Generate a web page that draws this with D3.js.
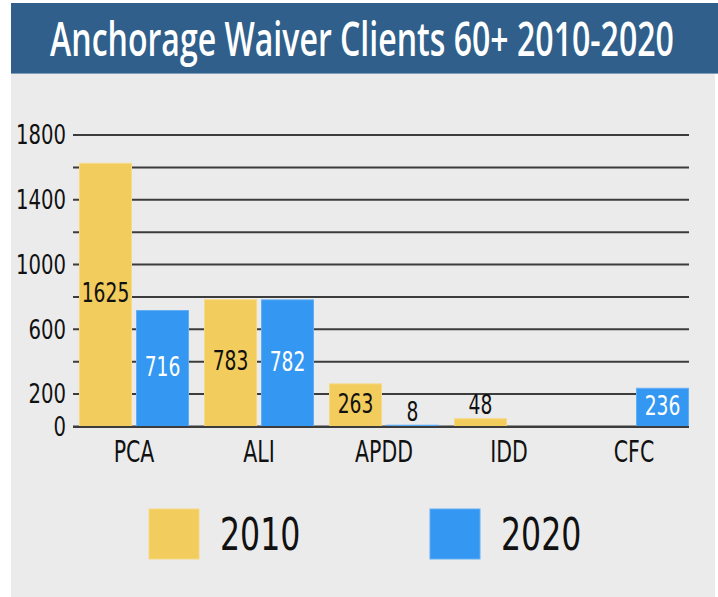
<!DOCTYPE html>
<html>
<head>
<meta charset="utf-8">
<script src="https://cdn.jsdelivr.net/npm/d3@7"></script>
<style>
  body { margin: 0; background: #fff; }
  svg { display: block; }
  text { font-family: "Liberation Sans Narrow", "DejaVu Sans Condensed", sans-serif; }
</style>
</head>
<body>
<svg id="chart" width="718" height="597"></svg>
<script>
// data
var categories = ['PCA', 'ALI', 'APDD', 'IDD', 'CFC']
var series = ['2010', '2020']
var values2010 = [1625, 783, 263, 48, null]
var values2020 = [716, 782, 8, null, 236]
var gridTicks = [0, 200, 400, 600, 800, 1000, 1200, 1400, 1600, 1800]
var tickLabels = [0, 200, 600, 1000, 1400, 1800]

var colors = {'2010': '#f2cc5c', '2020': '#3497f1'}
var strokes = {'2010': '#f6d983', '2020': '#62aef4'}

var rows = categories.map((c, i) => ({cat: c, '2010': values2010[i], '2020': values2020[i]}))

// squeeze glyphs to look like the condensed face of the original
function narrow(sel, k) {
  sel.each(function() {
    var w = this.getComputedTextLength()
    d3.select(this).attr('textLength', w * k).attr('lengthAdjust', 'spacingAndGlyphs')
  })
}

var svg = d3.select('#chart')

// background panel + title bar
svg.append('rect').attr('x', 11).attr('y', 73).attr('width', 704).attr('height', 524).attr('fill', '#ebebeb')
svg.append('rect').attr('x', 11).attr('y', 3).attr('width', 707).attr('height', 70).attr('fill', '#2f5f8a')
svg.append('line').attr('x1', 11).attr('x2', 718).attr('y1', 73.5).attr('y2', 73.5)
    .attr('stroke', '#7f9dbb').attr('stroke-width', 1)

var title = svg.append('text')
    .attr('text-anchor', 'middle')
    .attr('fill', '#fff')
    .style('font-family', '"Open Sans", "DejaVu Sans Condensed", sans-serif')
    .style('font-weight', 600)
    .style('font-size', '47px')
    .text('Anchorage Waiver Clients 60+ 2010-2020')
var tw = title.node().getComputedTextLength()
title.attr('transform', `translate(362,56) scale(${624 / tw},1)`)

var y = d3.scaleLinear()
    .domain([0, 1800])
    .range([426.5, 135])

var x0 = d3.scaleBand()
    .domain(categories)
    .range([73, 695])
    .paddingInner(0.128)
    .paddingOuter(0.052)

var x1 = d3.scaleBand()
    .domain(series)
    .range([0, x0.bandwidth()])
    .paddingInner(0.088)

// gridlines
svg.append('g')
  .selectAll('line')
  .data(gridTicks)
  .join('line')
    .attr('x1', 73)
    .attr('x2', 689)
    .attr('y1', d => y(d))
    .attr('y2', d => y(d))
    .attr('stroke', '#3c3c3c')
    .attr('stroke-width', 2)

// y tick labels
svg.append('g')
    .style('font-size', '26px')
  .selectAll('text')
  .data(tickLabels)
  .join('text')
    .attr('x', 66)
    .attr('y', d => y(d))
    .attr('dy', '0.36em')
    .attr('text-anchor', 'end')
    .attr('fill', '#111')
    .text(d => d)
    .call(narrow, 0.84)

// bars
var flat = []
rows.forEach(r => series.forEach(s => {
  if (r[s] != null) flat.push({cat: r.cat, s: s, v: r[s]})
}))

svg.append('g')
  .selectAll('rect')
  .data(flat)
  .join('rect')
    .attr('x', d => x0(d.cat) + x1(d.s))
    .attr('y', d => y(d.v))
    .attr('width', x1.bandwidth())
    .attr('height', d => y(0) - y(d.v))
    .attr('fill', d => colors[d.s])
    .attr('stroke', d => strokes[d.s])
    .attr('stroke-width', 1)

// redraw the baseline over the bars
svg.append('line')
    .attr('x1', 73).attr('x2', 689)
    .attr('y1', y(0) + 0.5).attr('y2', y(0) + 0.5)
    .attr('stroke', '#3c3c3c').attr('stroke-width', 2)

// value labels: inside the bar when it fits, otherwise above it
svg.append('g')
    .style('font-size', '26px')
  .selectAll('text')
  .data(flat)
  .join('text')
    .attr('x', d => x0(d.cat) + x1(d.s) + x1.bandwidth() / 2)
    .attr('y', d => {
      var h = y(0) - y(d.v)
      return h > 30 ? y(d.v) + h / 2 - 2 : y(d.v) - 14
    })
    .attr('dy', '0.36em')
    .attr('text-anchor', 'middle')
    .attr('fill', d => (y(0) - y(d.v) > 30 && d.s === '2020') ? '#fff' : '#111')
    .text(d => d.v)
    .call(narrow, 0.8)

// category labels
svg.append('g')
    .style('font-size', '30px')
  .selectAll('text')
  .data(categories)
  .join('text')
    .attr('x', d => x0(d) + x0.bandwidth() / 2)
    .attr('y', 462)
    .attr('text-anchor', 'middle')
    .attr('fill', '#111')
    .text(d => d)
    .call(narrow, 0.76)

// legend
var legendX = d3.scalePoint().domain(series).range([149, 430])

var lg = svg.append('g')
  .selectAll('g')
  .data(series)
  .join('g')
    .attr('transform', d => `translate(${legendX(d)},509)`)

lg.append('rect')
    .attr('width', 50)
    .attr('height', 50)
    .attr('fill', d => colors[d])
    .attr('stroke', d => strokes[d])

lg.append('text')
    .attr('x', 71)
    .attr('y', 41)
    .style('font-size', '45px')
    .attr('fill', '#111')
    .text(d => d)
    .call(narrow, 0.78)
</script>
</body>
</html>
